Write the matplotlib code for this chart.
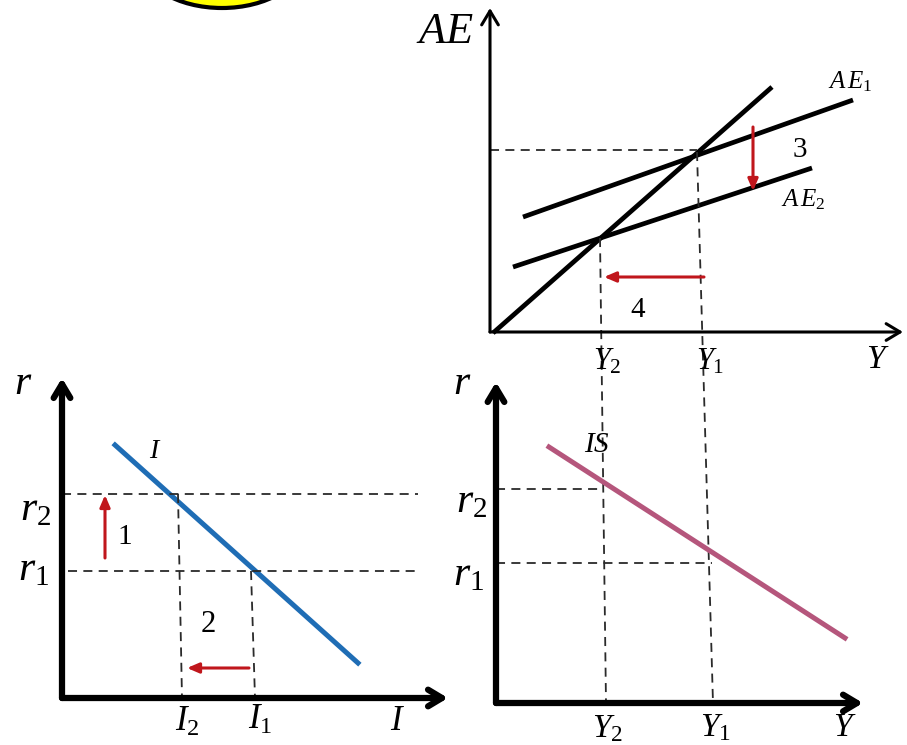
import numpy as np
from matplotlib import pyplot as plt
from matplotlib.patches import Ellipse

plt.rcParams['mathtext.fontset'] = 'custom'
plt.rcParams['mathtext.rm'] = 'Liberation Serif'
plt.rcParams['mathtext.it'] = 'Liberation Serif:italic'
plt.rcParams['font.family'] = ['Liberation Serif', 'DejaVu Sans']

# 画布坐标（像素，y向下）
# 上图：AE-Y
ae_origin = (490, 332)
ae_ytip = 8
ae_xtip = 903
line45_x, line45_y = [493, 772], [333, 87]
ae1_x, ae1_y = [523, 853], [217, 100]
ae2_x, ae2_y = [513, 812], [267, 168]
E1 = (697, 152)
E2 = (600, 238)
# Y1、Y2 的竖虚线一直拉到右下图
Y1_bottom = (713, 703)
Y2_bottom = (606, 703)

# 左下图：r-I
ri_origin = (62, 698)
ri_ytip = 378
ri_xtip = 448
inv_x, inv_y = [115, 358], [445, 663]
ri_r2, ri_r1 = 494, 571
I2_top, I2_bot = (178, 494), (182, 698)
I1_top, I1_bot = (251, 571), (255, 698)

# 右下图：r-Y
ry_origin = (496, 703)
ry_ytip = 382
ry_xtip = 863
is_x, is_y = [549, 845], [447, 638]
ry_r2, ry_r1 = 489, 563
ry_Y2, ry_Y1 = 603, 712

# 红色箭头 (起点, 终点)
red_arrows = [((105, 558), (105, 495)),
              ((249, 668), (187, 668)),
              ((753, 127), (753, 191)),
              ((704, 277), (604, 277))]

fig = plt.figure(figsize=(9.07, 7.45), dpi=100)
ax = fig.add_axes([0, 0, 1, 1])
ax.set_xlim(0, 907)
ax.set_ylim(745, 0)
ax.axis('off')

# 顶部黄色圆
ax.add_patch(Ellipse((222, -42), 164, 100, facecolor='#ffff00', edgecolor='black', lw=3))

def axis_arrow(tail, tip, lw, hl, hw):
    ax.annotate('', xy=tip, xytext=tail,
                arrowprops=dict(arrowstyle='->,head_length=%g,head_width=%g' % (hl, hw),
                                lw=lw, color='black', shrinkA=0, shrinkB=0,
                                mutation_scale=10))

dash = dict(color='#2a2a2a', lw=1.3, linestyle=(0, (5, 3.5)))

# 上图
axis_arrow(ae_origin, (ae_origin[0], ae_ytip), 2.2, 1.0, 0.6)
axis_arrow(ae_origin, (ae_xtip, ae_origin[1]), 2.2, 1.0, 0.6)
ax.plot(line45_x, line45_y, color='black', lw=3.4, solid_capstyle='butt')
ax.plot(ae1_x, ae1_y, color='black', lw=3.4, solid_capstyle='butt')
ax.plot(ae2_x, ae2_y, color='black', lw=3.4, solid_capstyle='butt')
ax.plot([ae_origin[0], E1[0]], [150, 150], **dash)
ax.plot([E1[0], Y1_bottom[0]], [E1[1], Y1_bottom[1]], **dash)
ax.plot([E2[0], Y2_bottom[0]], [E2[1], Y2_bottom[1]], **dash)

# 左下图
axis_arrow(ri_origin, (ri_origin[0], ri_ytip), 4.5, 1.0, 0.6)
axis_arrow(ri_origin, (ri_xtip, ri_origin[1]), 4.5, 1.0, 0.6)
ax.plot(inv_x, inv_y, color='#1f6db5', lw=3.6)
ax.plot([ri_origin[0], 418], [ri_r2, ri_r2], **dash)
ax.plot([68, 415], [ri_r1, ri_r1], **dash)
ax.plot([I2_top[0], I2_bot[0]], [I2_top[1], I2_bot[1]], **dash)
ax.plot([I1_top[0], I1_bot[0]], [I1_top[1], I1_bot[1]], **dash)

# 右下图
axis_arrow(ry_origin, (ry_origin[0], ry_ytip), 4.5, 1.0, 0.6)
axis_arrow(ry_origin, (ry_xtip, ry_origin[1]), 4.5, 1.0, 0.6)
ax.plot(is_x, is_y, color='#b5567c', lw=3.6)
ax.plot([ry_origin[0], ry_Y2], [ry_r2, ry_r2], **dash)
ax.plot([ry_origin[0], ry_Y1], [ry_r1, ry_r1], **dash)

# 红色箭头
for tail, tip in red_arrows:
    ax.annotate('', xy=tip, xytext=tail,
                arrowprops=dict(arrowstyle='-|>,head_length=0.7,head_width=0.3',
                                lw=2.2, color='#c0161c', shrinkA=0, shrinkB=0,
                                mutation_scale=10))

def label(x, y, s, size):
    ax.text(x, y, s, fontsize=size, ha='center', va='center')

# 文字
label(445, 32, r'$AE$', 32)
label(850, 82, r'$A\,E_1$', 18)
label(803, 200, r'$A\,E_2$', 18)
label(800, 150, '3', 21)
label(638, 310, '4', 21)
label(878, 360, r'$Y$', 24)
label(607, 362, r'$Y_2$', 22)
label(710, 362, r'$Y_1$', 22)

label(23, 384, r'$r$', 30)
label(36, 510, r'$r_2$', 30)
label(34, 570, r'$r_1$', 30)
label(155, 452, r'$I$', 20)
label(125, 537, '1', 21)
label(208, 625, '2', 22)
label(187, 722, r'$I_2$', 25)
label(260, 720, r'$I_1$', 25)
label(398, 722, r'$I$', 25)

label(462, 384, r'$r$', 30)
label(472, 502, r'$r_2$', 30)
label(469, 575, r'$r_1$', 30)
label(597, 445, r'$IS$', 21)
label(607, 729, r'$Y_2$', 24)
label(715, 728, r'$Y_1$', 24)
label(845, 728, r'$Y$', 24)

fig.savefig('out.png', dpi=100)
